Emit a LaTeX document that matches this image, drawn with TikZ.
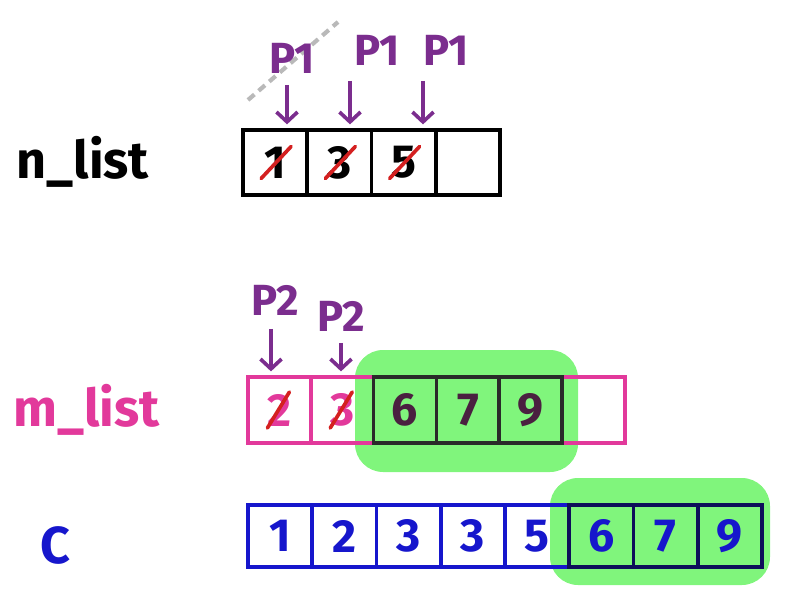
\documentclass[tikz,border=0pt]{standalone}
\usepackage{fontspec}
\setmainfont{Fira Sans}
\usepackage{xcolor}
\usepackage{tikz}
\usetikzlibrary{arrows.meta,positioning}
\definecolor{ptrpurple}{HTML}{7B2D8E}
\definecolor{mpink}{HTML}{E2399B}
\definecolor{cblue}{HTML}{1616CC}
\definecolor{hlgreen}{HTML}{80F57C}
\definecolor{xred}{HTML}{D42020}
\definecolor{darkbox}{HTML}{2A2A2A}
\definecolor{darktxt}{HTML}{4A2040}
\definecolor{navy}{HTML}{0E0E5A}

\tikzset{
  cell/.style={draw, line width=2.6pt, inner sep=0pt, outer sep=0pt,
    minimum width=1.6cm, minimum height=1.6cm, font=\fontsize{33}{33}\selectfont\bfseries},
  ptr/.style={ptrpurple, inner sep=1pt, font=\fontsize{31}{31}\selectfont\bfseries},
  parrow/.style={ptrpurple, line width=2.6pt, shorten >=4pt,
    -{Straight Barb[length=7pt,width=15pt]}},
  cross/.style={xred, line width=2.6pt, line cap=round},
  listname/.style={anchor=west, font=\fontsize{37}{37}\selectfont\bfseries}
}

\begin{document}
\begin{tikzpicture}[x=0.025cm,y=-0.025cm]
  \useasboundingbox (0,0) rectangle (794,612);
  % green highlights
  \fill[hlgreen,rounded corners=20] (355,350) rectangle (578,472);
  \fill[hlgreen,rounded corners=20] (550,478) rectangle (770,585);

  % n_list
  \node[listname] (nname) at (12,162) {n\_list};
  \foreach \i/\v in {1/1,2/3,3/5,4/{}}
    \node[cell, minimum width=1.606cm, minimum height=1.625cm] (n\i) at ({275.1+64.25*(\i-1)},162.5) {\v};
  \foreach \i in {1,2,3}
    \draw[cross] ([shift={(-14,16)}]n\i.center) -- ([shift={(16,-16)}]n\i.center);
  \draw[gray!55, line width=3pt, dash pattern=on 6pt off 4pt] (248,100) -- (338,22);
  \node[ptr] (p1a) at (292,58) {P1};
  \node[ptr] (p1b) at (377,50) {P1};
  \node[ptr] (p1c) at (446,50) {P1};
  \draw[parrow] (p1a.south) ++(-5,10) coordinate (t1) -- (t1 |- n1.north);
  \draw[parrow] (p1b.south) ++(-27,14) coordinate (t2) -- (t2 |- n2.north);
  \draw[parrow] (p1c.south) ++(-23,14) coordinate (t3) -- (t3 |- n3.north);

  % m_list
  \node[listname, mpink] (mname) at (9,410) {m\_list};
  \foreach \i/\v in {1/2,2/3,6/{}}
    \node[cell, mpink, minimum width=1.571cm, minimum height=1.65cm] (m\i) at ({279.4+62.83*(\i-1)},410) {\v};
  \foreach \i/\v in {3/6,4/7,5/9}
    \node[cell, draw=darkbox, text=darktxt, minimum width=1.571cm, minimum height=1.65cm] (m\i) at ({279.4+62.83*(\i-1)},410) {\v};
  \foreach \i in {1,2}
    \draw[cross] ([shift={(-12,18)}]m\i.center) -- ([shift={(10,-18)}]m\i.center);
  \node[ptr] (p2a) at (275,300) {P2};
  \node[ptr] (p2b) at (341,316) {P2};
  \draw[parrow] (p2a.south) ++(-4,12) coordinate (t4) -- (t4 |- m1.north);
  \draw[parrow] (p2b.south) ++(0,10) coordinate (t5) -- (t5 |- m2.north);

  % C
  \node[listname, cblue] (cname) at (36,545) {C};
  \foreach \i/\v in {1/1,2/2,3/3,4/3,5/5}
    \node[cell, cblue, minimum width=1.606cm, minimum height=1.55cm] (c\i) at ({280.1+64.25*(\i-1)},536) {\v};
  \foreach \i/\v in {6/6,7/7,8/9}
    \node[cell, draw=navy, text=cblue, minimum width=1.606cm, minimum height=1.55cm] (c\i) at ({280.1+64.25*(\i-1)},536) {\v};
\end{tikzpicture}
\end{document}
